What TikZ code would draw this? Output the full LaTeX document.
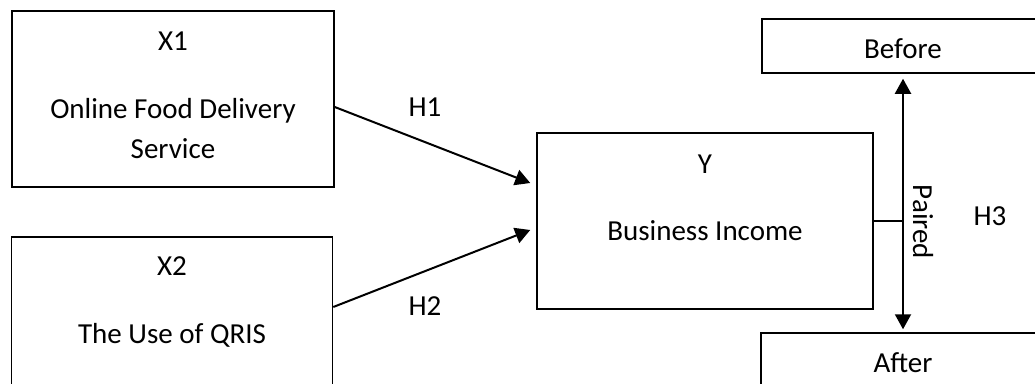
\documentclass[tikz,border=0pt]{standalone}
\usepackage{fontspec}
\setmainfont{Carlito}
\usetikzlibrary{arrows.meta}

\begin{document}
\begin{tikzpicture}[x=1pt, y=-1pt,
    box/.style={draw, line width=1.5pt, inner sep=0pt},
    lbl/.style={font=\fontsize{29}{35}\selectfont, inner sep=0pt, anchor=base},
    link/.style={line width=2pt, -{Triangle[width=16pt,length=15pt]}}]
    \useasboundingbox (0,0) rectangle (1035,383);
    \clip (0,0) rectangle (1035,383);

    % X1
    \node[box, minimum width=322pt, minimum height=176pt] (x1) at (173,99) {};
    \node[lbl] (x1id) at (173,50) {X1};
    \node[lbl] (x1name) at (173,118) {Online Food Delivery};
    \node[lbl] (x1rest) at (173,158) {Service};

    % X2
    \node[box, minimum width=321pt, minimum height=176pt] (x2) at (172,325) {};
    \node[lbl] (x2id) at (172,275) {X2};
    \node[lbl] (x2name) at (172,343) {The Use of QRIS};

    % Y
    \node[box, minimum width=336pt, minimum height=176pt] (y) at (705,221) {};
    \node[lbl] (yid) at (705,173) {Y};
    \node[lbl] (yname) at (705,240) {Business Income};

    % Before / After
    \node[box, minimum width=282pt, minimum height=54pt] (before) at (903,46) {};
    \node[lbl] (beforetxt) at (903,58) {Before};
    \node[box, minimum width=284pt, minimum height=54pt] (after) at (903,360) {};
    \node[lbl] (aftertxt) at (903,372) {After};

    % Arrows
    \draw[link] ([yshift=-8pt]x1.east) -- ([xshift=-6pt, yshift=38pt]y.west);
    \draw[link] ([yshift=18pt]x2.east) -- ([xshift=-6pt, yshift=-9pt]y.west);
    \draw[line width=2pt, {Triangle[width=16pt,length=15pt]}-{Triangle[width=16pt,length=15pt]},
        shorten <=5pt, shorten >=3pt] (before.south) -- (after.north);
    \draw[line width=1.2pt] (y.east) -- ([xshift=-1pt]y.east -| before.south);

    % Labels
    \node[lbl] (h1) at (425,116) {H1};
    \node[lbl] (h2) at (425,315) {H2};
    \node[lbl] (h3) at (990,225) {H3};
    \node[font=\fontsize{29}{35}\selectfont, inner sep=0pt, rotate=-90] (paired) at (923,222) {Paired};
\end{tikzpicture}
\end{document}
